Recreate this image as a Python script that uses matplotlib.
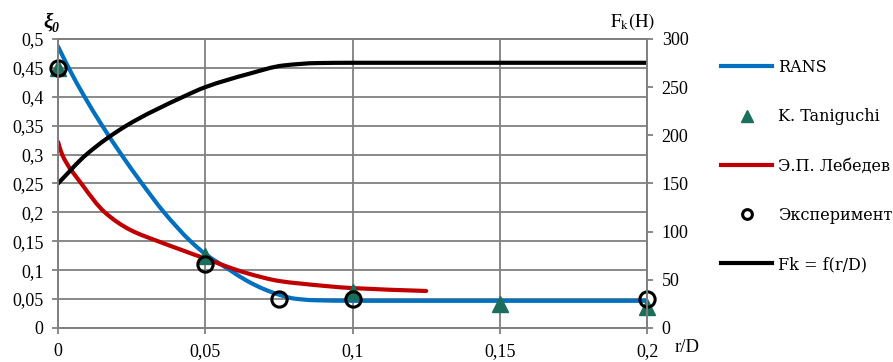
import matplotlib.pyplot as plt
from matplotlib.lines import Line2D
from matplotlib.path import Path
from matplotlib.patches import PathPatch

plt.rcParams['font.family'] = 'serif'
plt.rcParams['font.serif'] = ['Liberation Serif', 'DejaVu Serif']
plt.rcParams['mathtext.fontset'] = 'stix'

# RANS calculation, xi_0 vs r/D
rans_x = [0, 0.0036, 0.009, 0.015, 0.0215, 0.0285, 0.036, 0.045, 0.05, 0.0584,
          0.064, 0.07, 0.0754, 0.08, 0.087, 0.1, 0.2]
rans_y = [0.487, 0.45, 0.40, 0.35, 0.30, 0.25, 0.20, 0.15, 0.128, 0.10,
          0.082, 0.067, 0.057, 0.051, 0.048, 0.047, 0.047]

# Lebedev correlation
leb_x = [0, 0.0014, 0.0079, 0.0159, 0.0244, 0.0345, 0.0414, 0.05, 0.064,
         0.0754, 0.082, 0.1, 0.125]
leb_y = [0.322, 0.30, 0.25, 0.20, 0.17, 0.149, 0.136, 0.12, 0.095,
         0.081, 0.077, 0.069, 0.064]

# Taniguchi data
tan_x = [0, 0.05, 0.1, 0.15, 0.2]
tan_y = [0.45, 0.125, 0.063, 0.042, 0.037]

# experiment
exp_x = [0, 0.05, 0.075, 0.1, 0.2]
exp_y = [0.45, 0.11, 0.05, 0.05, 0.05]

# force Fk (H), right axis
fk_x = [0, 0.0096, 0.0232, 0.0425, 0.05, 0.065, 0.0765, 0.088, 0.1, 0.2]
fk_y = [150, 180, 210, 240, 250, 264, 272.5, 275, 275.3, 275.3]

xticks = [0, 0.05, 0.1, 0.15, 0.2]
xtick_labels = ['0', '0,05', '0,1', '0,15', '0,2']
yticks = [0, 0.05, 0.1, 0.15, 0.2, 0.25, 0.3, 0.35, 0.4, 0.45, 0.5]
ytick_labels = ['0', '0,05', '0,1', '0,15', '0,2', '0,25', '0,3', '0,35', '0,4', '0,45', '0,5']
fk_ticks = [0, 50, 100, 150, 200, 250, 300]

BLUE = '#0070C0'
RED = '#C00000'
TEAL = '#1B6E5C'
GRID = '#808080'
FS = 13


def smooth_line(ax, xs, ys, **kw):
    # smoothed line through the points: cubic Bezier segments with
    # monotone (pchip-style) tangents, so no overshoot between points
    n = len(xs)
    h = [xs[i + 1] - xs[i] for i in range(n - 1)]
    d = [(ys[i + 1] - ys[i]) / h[i] for i in range(n - 1)]
    m = [d[0]] + [0.0] * (n - 2) + [d[-1]]
    for k in range(1, n - 1):
        if d[k - 1] * d[k] > 0:
            w1 = 2 * h[k] + h[k - 1]
            w2 = h[k] + 2 * h[k - 1]
            m[k] = (w1 + w2) / (w1 / d[k - 1] + w2 / d[k])
    verts = [(xs[0], ys[0])]
    codes = [Path.MOVETO]
    for i in range(n - 1):
        t = h[i] / 3
        verts += [(xs[i] + t, ys[i] + m[i] * t),
                  (xs[i + 1] - t, ys[i + 1] - m[i + 1] * t),
                  (xs[i + 1], ys[i + 1])]
        codes += [Path.CURVE4] * 3
    patch = PathPatch(Path(verts, codes), fill=False, **kw)
    ax.add_patch(patch)
    return patch


fig = plt.figure(figsize=(8.93, 3.62), dpi=100)
ax = fig.add_axes([0.065, 0.094, 0.6596, 0.7983])
ax2 = ax.twinx()

smooth_line(ax, rans_x, rans_y, edgecolor=BLUE, lw=3, capstyle='round', zorder=3)
smooth_line(ax, leb_x, leb_y, edgecolor=RED, lw=3, capstyle='round', zorder=3)
ax.plot(tan_x, tan_y, ls='none', marker='^', ms=12, color=TEAL, clip_on=False, zorder=4)
ax.plot(exp_x, exp_y, ls='none', marker='o', ms=11, mfc='none', mec='black', mew=2.2,
        clip_on=False, zorder=5)
smooth_line(ax2, fk_x, fk_y, edgecolor='black', lw=3, capstyle='round')

ax.set_xlim(0, 0.2)
ax.set_ylim(0, 0.5)
ax2.set_ylim(0, 300)
ax.set_xticks(xticks)
ax.set_xticklabels(xtick_labels)
ax.set_yticks(yticks)
ax.set_yticklabels(ytick_labels)
ax2.set_yticks(fk_ticks)

ax.grid(True, color=GRID, lw=1.3)
ax.set_axisbelow(True)
for a in (ax, ax2):
    for s in a.spines.values():
        s.set_color(GRID)
        s.set_linewidth(1.3)
    a.tick_params(colors=GRID, labelcolor='black', labelsize=FS, width=1.3, length=4)
ax.tick_params(axis='x', pad=7)
ax.tick_params(axis='y', pad=6.5)
ax2.tick_params(axis='y', pad=6.5)

fig.text(53 / 893, 1 - 23 / 362, 'ξ', fontsize=15, style='italic', weight='bold',
         ha='right', va='center')
fig.text(52 / 893, 1 - 28 / 362, '0', fontsize=10, style='italic', weight='bold',
         ha='left', va='center')
fig.text(633 / 893, 1 - 22 / 362, r'$\mathrm{F_k(H)}$', fontsize=FS + 0.5,
         ha='center', va='center')
fig.text(687 / 893, 1 - 348 / 362, 'r/D', fontsize=FS + 0.5, ha='center', va='center')

handles = [
    Line2D([], [], color=BLUE, lw=3),
    Line2D([], [], ls='none', marker='^', ms=8, color=TEAL),
    Line2D([], [], color=RED, lw=3),
    Line2D([], [], ls='none', marker='o', ms=7, mfc='none', mec='black', mew=2.2),
    Line2D([], [], color='black', lw=3),
]
labels = ['RANS', 'K. Taniguchi', 'Э.П. Лебедев', 'Эксперимент', 'Fk = f(r/D)']
fig.legend(handles, labels, loc='upper left', bbox_to_anchor=(721 / 893, 1 - 59 / 362),
           frameon=False, prop={'family': 'DejaVu Serif', 'size': 11.5},
           handlelength=3.2, handletextpad=0.4,
           labelspacing=2.02, borderaxespad=0, borderpad=0)

fig.savefig('out.png', dpi=100)
